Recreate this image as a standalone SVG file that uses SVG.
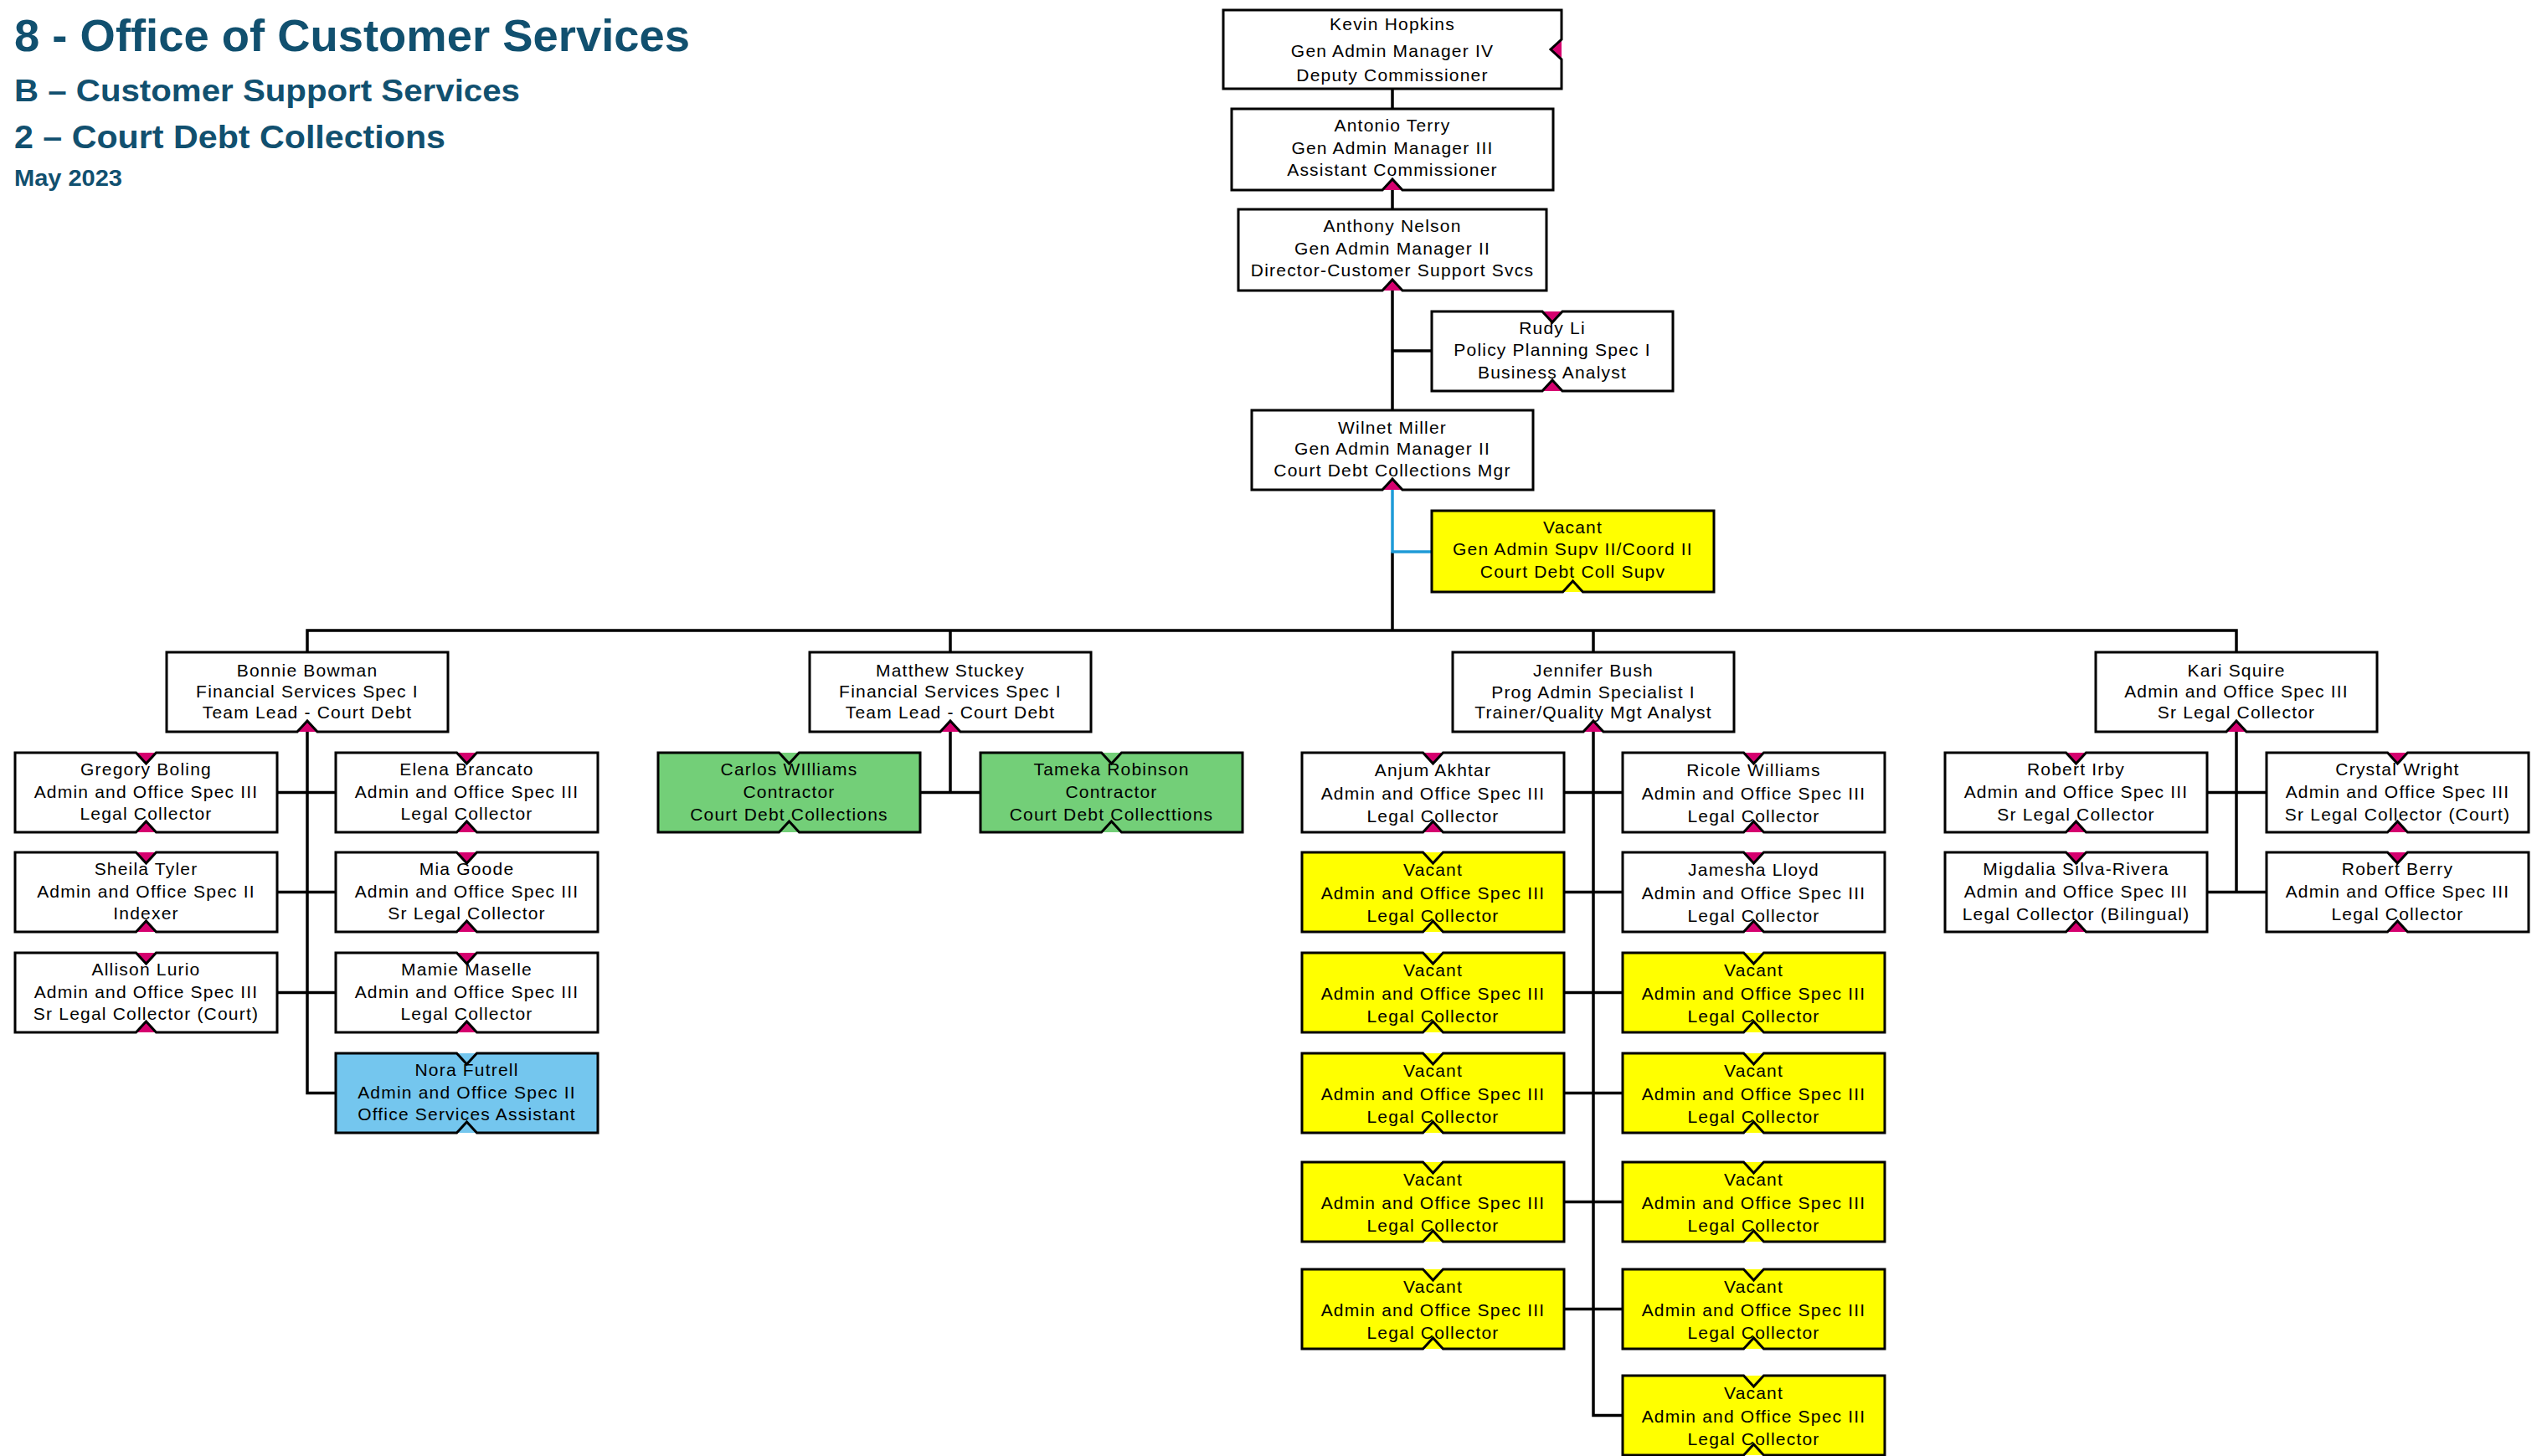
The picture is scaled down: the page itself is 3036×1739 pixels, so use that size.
<svg xmlns="http://www.w3.org/2000/svg" xmlns:xlink="http://www.w3.org/1999/xlink" width="3036" height="1739" viewBox="0 0 3036 1739">
<style>
.h{font-family:'Liberation Sans',Arial,sans-serif;font-weight:bold;fill:#11506f}
.t{font-family:'Liberation Sans',Arial,sans-serif;font-size:21px;letter-spacing:1.2px;text-anchor:middle;fill:#000}
.bx{stroke:#000;stroke-width:3;stroke-linejoin:miter}
.w{fill:#fff}.y{fill:#ffff00}.g{fill:#73cf78}.b{fill:#74c6ee}.pk{fill:#d6006f}
</style>
<defs>
<path id="cb" d="M0 0H144.5L156.5 13L168.5 0H313V95H168.5L156.5 82L144.5 95H0Z"/>
<path id="cbn" d="M144.5 0L156.5 13L168.5 0ZM144.5 95L156.5 82L168.5 95Z"/>
<path id="lb" d="M0 0H336V95H180L168 82L156 95H0Z"/>
<path id="lbn" d="M156 95L168 82L180 95Z"/>
</defs>
<rect width="3036" height="1739" fill="#fff"/>
<g id="title">
<text class="h" x="17" y="61" font-size="54" textLength="807" lengthAdjust="spacingAndGlyphs">8 - Office of Customer Services</text>
<text class="h" x="17" y="121" font-size="37" textLength="604" lengthAdjust="spacingAndGlyphs">B – Customer Support Services</text>
<text class="h" x="17" y="177" font-size="38" textLength="515" lengthAdjust="spacingAndGlyphs">2 – Court Debt Collections</text>
<text class="h" x="17" y="222" font-size="28" textLength="129" lengthAdjust="spacingAndGlyphs">May 2023</text>
</g>
<g id="connectors" fill="none" stroke="#000" stroke-width="3.5" stroke-linecap="square">
<path d="M1663 106V130M1663 227V250M1663 347V490M1663 419H1710M1663 661V753M367 753H2671M367 753V779M1135 753V779M1903 753V779M2671 753V779"/>
<path stroke="#1f9bd7" stroke-linecap="butt" d="M1663 585V659H1710"/>
<path d="M367 874V1305.5M331 946.5H401M331 1065.5H401M331 1185.5H401M367 1305.5H401"/>
<path d="M1135 874V946.5M1099 946.5H1171"/>
<path d="M1903 874V1690.5M1868 946.5H1938M1868 1065.5H1938M1868 1185.5H1938M1868 1305.5H1938M1868 1435.5H1938M1868 1563.5H1938M1903 1690.5H1938"/>
<path d="M2671 874V1065.5M2636 946.5H2707M2636 1065.5H2707"/>
</g>
<g id="kevin-hopkins">
<polygon class="pk" points="1865,47 1852,59 1865,71"/>
<path class="bx w" d="M1461 12H1865V47L1852 59L1865 71V106H1461Z"/>
<text class="t"><tspan x="1663" y="36">Kevin Hopkins</tspan><tspan x="1663" y="68">Gen Admin Manager IV</tspan><tspan x="1663" y="97">Deputy Commissioner</tspan></text>
</g>
<g id="antonio-terry">
<polygon class="pk" points="1651,227 1663,214 1675,227"/>
<path class="bx w" d="M1471 130H1855V227H1675L1663 214L1651 227H1471Z"/>
<text class="t"><tspan x="1663" y="157">Antonio Terry</tspan><tspan x="1663" y="184">Gen Admin Manager III</tspan><tspan x="1663" y="210">Assistant Commissioner</tspan></text>
</g>
<g id="anthony-nelson">
<polygon class="pk" points="1651,347 1663,334 1675,347"/>
<path class="bx w" d="M1479 250H1847V347H1675L1663 334L1651 347H1479Z"/>
<text class="t"><tspan x="1663" y="277">Anthony Nelson</tspan><tspan x="1663" y="304">Gen Admin Manager II</tspan><tspan x="1663" y="330">Director-Customer Support Svcs</tspan></text>
</g>
<g id="rudy-li">
<polygon class="pk" points="1842,372 1854,385 1866,372"/>
<polygon class="pk" points="1842,467 1854,454 1866,467"/>
<path class="bx w" d="M1710 372H1842L1854 385L1866 372H1998V467H1866L1854 454L1842 467H1710Z"/>
<text class="t"><tspan x="1854" y="399">Rudy Li</tspan><tspan x="1854" y="425">Policy Planning Spec I</tspan><tspan x="1854" y="452">Business Analyst</tspan></text>
</g>
<g id="wilnet-miller">
<polygon class="pk" points="1651,585 1663,572 1675,585"/>
<path class="bx w" d="M1495 490H1831V585H1675L1663 572L1651 585H1495Z"/>
<text class="t"><tspan x="1663" y="518">Wilnet Miller</tspan><tspan x="1663" y="543">Gen Admin Manager II</tspan><tspan x="1663" y="569">Court Debt Collections Mgr</tspan></text>
</g>
<g id="vacant-supv">
<polygon class="y" points="1866.5,707 1878.5,694 1890.5,707"/>
<path class="bx y" d="M1710 610H2047V707H1890.5L1878.5 694L1866.5 707H1710Z"/>
<text class="t"><tspan x="1878.5" y="637">Vacant</tspan><tspan x="1878.5" y="663">Gen Admin Supv II/Coord II</tspan><tspan x="1878.5" y="690">Court Debt Coll Supv</tspan></text>
</g>
<g id="bonnie-bowman">
<use href="#lbn" x="199" y="779" class="pk"/><use href="#lb" x="199" y="779" class="bx w"/>
<text class="t"><tspan x="367" y="808">Bonnie Bowman</tspan><tspan x="367" y="833">Financial Services Spec I</tspan><tspan x="367" y="858">Team Lead - Court Debt</tspan></text>
</g>
<g id="matthew-stuckey">
<use href="#lbn" x="967" y="779" class="pk"/><use href="#lb" x="967" y="779" class="bx w"/>
<text class="t"><tspan x="1135" y="808">Matthew Stuckey</tspan><tspan x="1135" y="833">Financial Services Spec I</tspan><tspan x="1135" y="858">Team Lead - Court Debt</tspan></text>
</g>
<g id="jennifer-bush">
<use href="#lbn" x="1735" y="779" class="pk"/><use href="#lb" x="1735" y="779" class="bx w"/>
<text class="t"><tspan x="1903" y="808">Jennifer Bush</tspan><tspan x="1903" y="834">Prog Admin Specialist I</tspan><tspan x="1903" y="858">Trainer/Quality Mgt Analyst</tspan></text>
</g>
<g id="kari-squire">
<use href="#lbn" x="2503" y="779" class="pk"/><use href="#lb" x="2503" y="779" class="bx w"/>
<text class="t"><tspan x="2671" y="808">Kari Squire</tspan><tspan x="2671" y="833">Admin and Office Spec III</tspan><tspan x="2671" y="858">Sr Legal Collector</tspan></text>
</g>
<g id="gregory-boling">
<use href="#cbn" x="18" y="899" class="pk"/><use href="#cb" x="18" y="899" class="bx w"/>
<text class="t"><tspan x="174.5" y="926">Gregory Boling</tspan><tspan x="174.5" y="953">Admin and Office Spec III</tspan><tspan x="174.5" y="979">Legal Collector</tspan></text>
</g>
<g id="elena-brancato">
<use href="#cbn" x="401" y="899" class="pk"/><use href="#cb" x="401" y="899" class="bx w"/>
<text class="t"><tspan x="557.5" y="926">Elena Brancato</tspan><tspan x="557.5" y="953">Admin and Office Spec III</tspan><tspan x="557.5" y="979">Legal Collector</tspan></text>
</g>
<g id="sheila-tyler">
<use href="#cbn" x="18" y="1018" class="pk"/><use href="#cb" x="18" y="1018" class="bx w"/>
<text class="t"><tspan x="174.5" y="1045">Sheila Tyler</tspan><tspan x="174.5" y="1072">Admin and Office Spec II</tspan><tspan x="174.5" y="1098">Indexer</tspan></text>
</g>
<g id="mia-goode">
<use href="#cbn" x="401" y="1018" class="pk"/><use href="#cb" x="401" y="1018" class="bx w"/>
<text class="t"><tspan x="557.5" y="1045">Mia Goode</tspan><tspan x="557.5" y="1072">Admin and Office Spec III</tspan><tspan x="557.5" y="1098">Sr Legal Collector</tspan></text>
</g>
<g id="allison-lurio">
<use href="#cbn" x="18" y="1138" class="pk"/><use href="#cb" x="18" y="1138" class="bx w"/>
<text class="t"><tspan x="174.5" y="1165">Allison Lurio</tspan><tspan x="174.5" y="1192">Admin and Office Spec III</tspan><tspan x="174.5" y="1218">Sr Legal Collector (Court)</tspan></text>
</g>
<g id="mamie-maselle">
<use href="#cbn" x="401" y="1138" class="pk"/><use href="#cb" x="401" y="1138" class="bx w"/>
<text class="t"><tspan x="557.5" y="1165">Mamie Maselle</tspan><tspan x="557.5" y="1192">Admin and Office Spec III</tspan><tspan x="557.5" y="1218">Legal Collector</tspan></text>
</g>
<g id="nora-futrell">
<use href="#cbn" x="401" y="1258" class="b"/><use href="#cb" x="401" y="1258" class="bx b"/>
<text class="t"><tspan x="557.5" y="1285">Nora Futrell</tspan><tspan x="557.5" y="1312">Admin and Office Spec II</tspan><tspan x="557.5" y="1338">Office Services Assistant</tspan></text>
</g>
<g id="carlos-williams">
<use href="#cbn" x="786" y="899" class="g"/><use href="#cb" x="786" y="899" class="bx g"/>
<text class="t"><tspan x="942.5" y="926">Carlos WIlliams</tspan><tspan x="942.5" y="953">Contractor</tspan><tspan x="942.5" y="980">Court Debt Collections</tspan></text>
</g>
<g id="tameka-robinson">
<use href="#cbn" x="1171" y="899" class="g"/><use href="#cb" x="1171" y="899" class="bx g"/>
<text class="t"><tspan x="1327.5" y="926">Tameka Robinson</tspan><tspan x="1327.5" y="953">Contractor</tspan><tspan x="1327.5" y="980">Court Debt Collecttions</tspan></text>
</g>
<g id="anjum-akhtar">
<use href="#cbn" x="1555" y="899" class="pk"/><use href="#cb" x="1555" y="899" class="bx w"/>
<text class="t"><tspan x="1711.5" y="927">Anjum Akhtar</tspan><tspan x="1711.5" y="955">Admin and Office Spec III</tspan><tspan x="1711.5" y="982">Legal Collector</tspan></text>
</g>
<g id="ricole-williams">
<use href="#cbn" x="1938" y="899" class="pk"/><use href="#cb" x="1938" y="899" class="bx w"/>
<text class="t"><tspan x="2094.5" y="927">Ricole Williams</tspan><tspan x="2094.5" y="955">Admin and Office Spec III</tspan><tspan x="2094.5" y="982">Legal Collector</tspan></text>
</g>
<g id="vacant-l2">
<use href="#cbn" x="1555" y="1018" class="y"/><use href="#cb" x="1555" y="1018" class="bx y"/>
<text class="t"><tspan x="1711.5" y="1046">Vacant</tspan><tspan x="1711.5" y="1074">Admin and Office Spec III</tspan><tspan x="1711.5" y="1101">Legal Collector</tspan></text>
</g>
<g id="jamesha-lloyd">
<use href="#cbn" x="1938" y="1018" class="pk"/><use href="#cb" x="1938" y="1018" class="bx w"/>
<text class="t"><tspan x="2094.5" y="1046">Jamesha Lloyd</tspan><tspan x="2094.5" y="1074">Admin and Office Spec III</tspan><tspan x="2094.5" y="1101">Legal Collector</tspan></text>
</g>
<g id="vacant-l3">
<use href="#cbn" x="1555" y="1138" class="y"/><use href="#cb" x="1555" y="1138" class="bx y"/>
<text class="t"><tspan x="1711.5" y="1166">Vacant</tspan><tspan x="1711.5" y="1194">Admin and Office Spec III</tspan><tspan x="1711.5" y="1221">Legal Collector</tspan></text>
</g>
<g id="vacant-r3">
<use href="#cbn" x="1938" y="1138" class="y"/><use href="#cb" x="1938" y="1138" class="bx y"/>
<text class="t"><tspan x="2094.5" y="1166">Vacant</tspan><tspan x="2094.5" y="1194">Admin and Office Spec III</tspan><tspan x="2094.5" y="1221">Legal Collector</tspan></text>
</g>
<g id="vacant-l4">
<use href="#cbn" x="1555" y="1258" class="y"/><use href="#cb" x="1555" y="1258" class="bx y"/>
<text class="t"><tspan x="1711.5" y="1286">Vacant</tspan><tspan x="1711.5" y="1314">Admin and Office Spec III</tspan><tspan x="1711.5" y="1341">Legal Collector</tspan></text>
</g>
<g id="vacant-r4">
<use href="#cbn" x="1938" y="1258" class="y"/><use href="#cb" x="1938" y="1258" class="bx y"/>
<text class="t"><tspan x="2094.5" y="1286">Vacant</tspan><tspan x="2094.5" y="1314">Admin and Office Spec III</tspan><tspan x="2094.5" y="1341">Legal Collector</tspan></text>
</g>
<g id="vacant-l5">
<use href="#cbn" x="1555" y="1388" class="y"/><use href="#cb" x="1555" y="1388" class="bx y"/>
<text class="t"><tspan x="1711.5" y="1416">Vacant</tspan><tspan x="1711.5" y="1444">Admin and Office Spec III</tspan><tspan x="1711.5" y="1471">Legal Collector</tspan></text>
</g>
<g id="vacant-r5">
<use href="#cbn" x="1938" y="1388" class="y"/><use href="#cb" x="1938" y="1388" class="bx y"/>
<text class="t"><tspan x="2094.5" y="1416">Vacant</tspan><tspan x="2094.5" y="1444">Admin and Office Spec III</tspan><tspan x="2094.5" y="1471">Legal Collector</tspan></text>
</g>
<g id="vacant-l6">
<use href="#cbn" x="1555" y="1516" class="y"/><use href="#cb" x="1555" y="1516" class="bx y"/>
<text class="t"><tspan x="1711.5" y="1544">Vacant</tspan><tspan x="1711.5" y="1572">Admin and Office Spec III</tspan><tspan x="1711.5" y="1599">Legal Collector</tspan></text>
</g>
<g id="vacant-r6">
<use href="#cbn" x="1938" y="1516" class="y"/><use href="#cb" x="1938" y="1516" class="bx y"/>
<text class="t"><tspan x="2094.5" y="1544">Vacant</tspan><tspan x="2094.5" y="1572">Admin and Office Spec III</tspan><tspan x="2094.5" y="1599">Legal Collector</tspan></text>
</g>
<g id="vacant-r7">
<use href="#cbn" x="1938" y="1643" class="y"/><use href="#cb" x="1938" y="1643" class="bx y"/>
<text class="t"><tspan x="2094.5" y="1671">Vacant</tspan><tspan x="2094.5" y="1699">Admin and Office Spec III</tspan><tspan x="2094.5" y="1726">Legal Collector</tspan></text>
</g>
<g id="robert-irby">
<use href="#cbn" x="2323" y="899" class="pk"/><use href="#cb" x="2323" y="899" class="bx w"/>
<text class="t"><tspan x="2479.5" y="926">Robert Irby</tspan><tspan x="2479.5" y="953">Admin and Office Spec III</tspan><tspan x="2479.5" y="980">Sr Legal Collector</tspan></text>
</g>
<g id="crystal-wright">
<use href="#cbn" x="2707" y="899" class="pk"/><use href="#cb" x="2707" y="899" class="bx w"/>
<text class="t"><tspan x="2863.5" y="926">Crystal Wright</tspan><tspan x="2863.5" y="953">Admin and Office Spec III</tspan><tspan x="2863.5" y="980">Sr Legal Collector (Court)</tspan></text>
</g>
<g id="migdalia-silva-rivera">
<use href="#cbn" x="2323" y="1018" class="pk"/><use href="#cb" x="2323" y="1018" class="bx w"/>
<text class="t"><tspan x="2479.5" y="1045">Migdalia Silva-Rivera</tspan><tspan x="2479.5" y="1072">Admin and Office Spec III</tspan><tspan x="2479.5" y="1099">Legal Collector (Bilingual)</tspan></text>
</g>
<g id="robert-berry">
<use href="#cbn" x="2707" y="1018" class="pk"/><use href="#cb" x="2707" y="1018" class="bx w"/>
<text class="t"><tspan x="2863.5" y="1045">Robert Berry</tspan><tspan x="2863.5" y="1072">Admin and Office Spec III</tspan><tspan x="2863.5" y="1099">Legal Collector</tspan></text>
</g>
</svg>
